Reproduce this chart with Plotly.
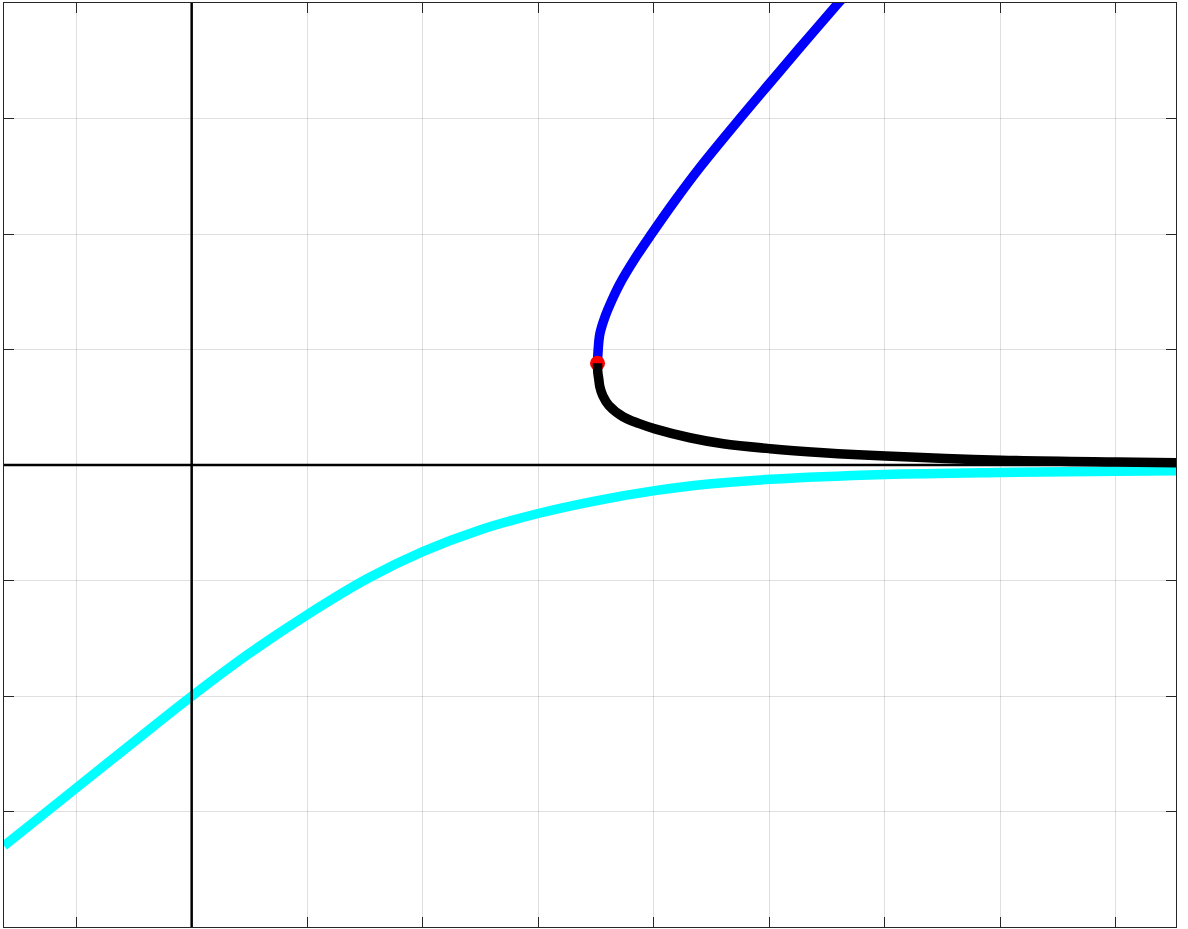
import plotly.graph_objects as go

# ---- data (grid units) ----
cyan_x = [-1.625, -1.371, -0.990, -0.506, 0.0, 0.505, 1.001, 1.515, 2.0, 2.496, 3.0, 3.5, 4.011, 4.5, 5.007, 6.003, 6.998, 8.003, 8.523]
cyan_y = [-3.297, -3.094, -2.789, -2.402, -2.002, -1.627, -1.296, -0.987, -0.750, -0.562, -0.420, -0.31, -0.222, -0.163, -0.124, -0.082, -0.064, -0.054, -0.050]

blue_x = [3.514, 3.520, 3.535, 3.578, 3.640, 3.708, 3.840, 3.983, 4.185, 4.401, 4.747, 5.000, 5.255, 5.600, 5.645]
blue_y = [0.881, 1.002, 1.138, 1.281, 1.430, 1.570, 1.790, 2.002, 2.289, 2.577, 3.000, 3.300, 3.600, 4.000, 4.050]

black_x = [3.514, 3.517, 3.524, 3.535, 3.560, 3.612, 3.737, 3.870, 4.011, 4.314, 4.603, 5.010, 5.469, 6.009, 7.005, 8.009, 8.523]
black_y = [0.881, 0.800, 0.750, 0.674, 0.600, 0.517, 0.417, 0.360, 0.313, 0.236, 0.184, 0.141, 0.107, 0.078, 0.042, 0.026, 0.020]

fold_x = [3.514]
fold_y = [0.881]

x_range = [-1.625, 8.523]
y_range = [-4, 4]

LW = 9.5

fig = go.Figure()
fig.add_trace(go.Scatter(x=cyan_x, y=cyan_y, mode="lines",
                         line=dict(color="#00ffff", width=LW, shape="spline", smoothing=1.0),
                         showlegend=False, hoverinfo="skip"))
fig.add_trace(go.Scatter(x=blue_x, y=blue_y, mode="lines",
                         line=dict(color="#0000ff", width=LW, shape="spline", smoothing=1.0),
                         showlegend=False, hoverinfo="skip"))
fig.add_trace(go.Scatter(x=fold_x, y=fold_y, mode="markers",
                         marker=dict(color="#ff0000", size=15, line=dict(width=0)),
                         showlegend=False, hoverinfo="skip"))
fig.add_trace(go.Scatter(x=black_x, y=black_y, mode="lines",
                         line=dict(color="#000000", width=LW, shape="spline", smoothing=1.0),
                         showlegend=False, hoverinfo="skip"))

# coordinate axes through the origin
fig.add_shape(type="line", xref="x", yref="paper", x0=0, x1=0, y0=0, y1=1,
              line=dict(color="#000000", width=2.5), layer="above")
fig.add_shape(type="line", xref="paper", yref="y", x0=0, x1=1, y0=0, y1=0,
              line=dict(color="#000000", width=2.5), layer="above")

axis_common = dict(
    showgrid=True, gridcolor="rgba(38,38,38,0.15)", gridwidth=1,
    zeroline=False, showticklabels=False,
    ticks="inside", ticklen=10, tickwidth=1, tickcolor="#262626",
    showline=True, linecolor="#262626", linewidth=1, mirror="ticks",
    dtick=1, tick0=0,
)
fig.update_xaxes(range=x_range, **axis_common)
fig.update_yaxes(range=y_range, **axis_common)

fig.update_layout(
    width=1188, height=929,
    margin=dict(l=4, r=12, t=3, b=2, pad=0),
    plot_bgcolor="white", paper_bgcolor="white",
    showlegend=False,
)

fig.write_html("out.html", config={"displayModeBar": False},
               post_script="document.body.style.margin='0';document.body.style.overflow='hidden';")
